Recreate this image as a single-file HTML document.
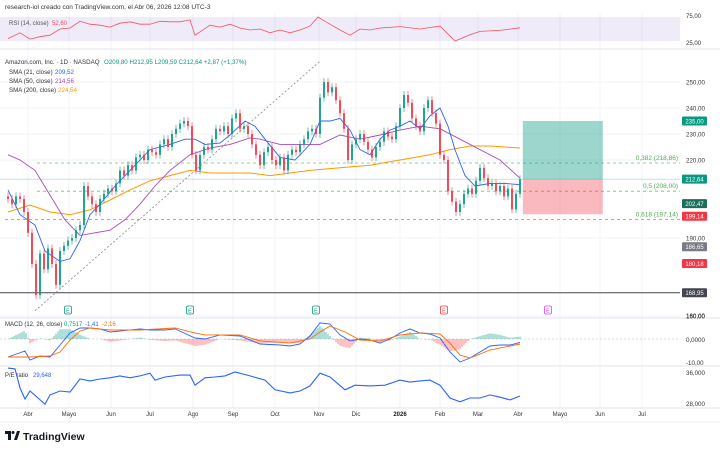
<!DOCTYPE html>
<html><head><meta charset="utf-8">
<style>
html,body{margin:0;padding:0;background:#fff;}
body{width:720px;height:450px;overflow:hidden;font-family:"Liberation Sans",sans-serif;}
svg text{font-family:"Liberation Sans",sans-serif;}
</style></head>
<body>
<svg id="c" width="720" height="450" xmlns="http://www.w3.org/2000/svg"></svg>
<script>
// ===== data =====
const closes=[205,203,206,205,200,192,180,168,184,178,186,180,172,185,187,189,190,193,195,210,206,203,200,205,207,209,208,211,216,214,218,216,221,222,220,224,223,222,226,228,225,230,232,234,235,233,222,216,222,225,224,228,232,231,233,230,236,238,232,233,230,226,222,218,223,225,220,218,221,216,222,224,223,226,228,231,232,230,244,250,246,248,243,238,232,220,226,228,230,227,224,221,225,227,231,229,228,233,240,245,242,236,233,231,240,243,238,234,222,220,208,204,200,203,207,209,207,212,217,213,210,211,208,210,206,209,201,207,212.64];
const sma21Idx=[0,3,6.75,9.25,13,15.5,18,20.5,23,26.75,30.5,35.5,40.5,44.25,46.75,49.25,53,55.5,59.25,61.75,64.25,68,71.75,75.5,78,80.5,83,85.5,88,90.5,93,95.5,98,100.5,103,105.5,108,110,111.75,114.25,116.75,120.5,124.25,128];
const sma21Val=[208.5,199,195,185,181,182,189,199,203,210,216,224,226,228,228,226,226.5,229.6,235,233,228,221,220,226,235,235,236,231.5,224,222,228,231.5,233,235,232,237,240,233,224,214,210,211,211,210.5];
const sma50Idx=[0,3,6.75,10.5,14.25,18,21.75,25.5,29.25,33,36.75,40.5,45.5,50.5,55.5,60.5,63,68,73,78,83,88,93,98,103,108,113,118,123,128];
const sma50Val=[222,220,216,206.5,197,191,192,193,197,203,210,216,222,224.6,226,228.5,228,226,226,226,229.6,228,229.6,231.5,233,232,228,224,220,213];
const sma200Idx=[0,5.5,10.5,15.5,20.5,25.5,30.5,35.5,40.5,45.5,50.5,55.5,60.5,65.5,70.5,75.5,83,90.5,98,105.5,110.5,115.5,120.5,128];
const sma200Val=[200,202.7,200,199,200.8,204.6,208.5,212,214,216,215,215,215,214,215,216,217,218,220,222,224,225.4,225.4,224.6];
const rsiIdx=[0,3,5.5,8,10.5,13,15.5,18,20.5,23,25.5,28,30.5,33,35.5,38,40.5,43,45.5,46.75,48,50.5,53,55.5,58,60.5,63,65.5,68,70.5,73,75.5,77.5,79.25,80.5,83,85.5,88,90.5,93,98,103,108,111.75,115.5,118,123,128];
const rsiVal=[30,42,29,34,37,50,52,66,60,58,54,62,65,60,60,66,65,65,69,37,44,58,54,60,52,48,50,42,48,42,48,56,75,66,60,48,37,50,48,52,55,50,56,25,38,45,47,52.6];
const macdIdx=[0,4.25,5.5,8,10.5,13,15.5,18,20.5,23,25.5,28,33,35.5,39.25,41.75,46.75,49.25,53,58,63,68,70.5,73,75.5,78,80.5,83,85.5,88,90.5,93,95.5,98,100.5,103,105.5,108,110.5,113,115.5,118,120.5,123,125.5,128];
const macdVal=[-7.5,-5,-8.75,-7.1,-7.5,-2.5,2.5,4.6,4.6,4.2,2.9,3.3,4.2,3.75,3.75,4.2,0.4,0,1.7,1.25,-2.1,-2.5,-2.9,-2.1,1.25,6.7,6.25,1.7,-0.8,0,-0.4,-1.7,0,2.5,4.2,2.5,2.1,0.4,-5.4,-9.6,-7.9,-5.4,-2.9,-2.5,-2.5,-1.4];
const signalIdx=[0,5.5,10.5,13,15.5,18,20.5,25.5,33,41.75,46.75,49.25,58,63,70.5,75.5,78,80.5,84.25,88,93,98,103,108,110.5,113,115.5,120.5,125.5,128];
const signalVal=[-7.5,-7.5,-7.1,-5.4,-0.4,3.3,4.6,3.75,3.75,4.6,2.5,1.7,1.7,-0.8,-1.7,0,2.9,5.4,2.9,-0.4,-0.8,1.7,2.5,2.1,-1.7,-6.7,-7.9,-4.6,-2.9,-2.1];
const peIdx=[0,1.75,3,4.25,5.5,7.5,9.25,10.5,13,15.5,18,20.5,23,25.5,28,30.5,33,35.5,36.75,39.25,43,45.5,46.75,49.25,51.75,54.25,56.75,60.5,64.25,66.75,70.5,73,75.5,78,80.5,84.25,86.75,90.5,94.25,98,100.5,103,105.5,108,110.5,113,115.5,118,120.5,123,125.5,128];
const peVal=[37,36.8,31.9,29,31.1,29.3,27.7,30.1,31.1,30.8,34.2,33.7,34.2,34.5,35,34.5,35,35.7,33.9,34.7,35.2,35.2,32.6,34.5,34.7,35,36,35,33.9,31.4,30.6,31.1,32.4,35.7,34.7,31.4,32.6,32.4,32.6,33.9,33.4,33.7,33.9,32.6,29.3,28.3,29.3,29.3,30.1,29.5,28.8,29.8];
const monthLabels=["Abr","Mayo","Jun","Jul","Ago","Sep","Oct","Nov","Dic","2026","Feb","Mar","Abr","Mayo","Jun","Jul"];
const monthIdx=[5,15.25,25.75,35.5,46.25,56.25,66.75,77.75,87,98,108,117.5,127.5,138,148,158.5];
const priceTicks=[250,240,230,220,190,160];
const fibLevels=[218.86,208,197.14];
const fibNames=["0,382 (218,86)","0,5 (208,00)","0,618 (197,14)"];
const earnIdx=[15,45.5,77,109,135];
const earnColor=["#089981","#089981","#089981","#f23645","#e040fb"];

// ===== scales =====
const S=document.getElementById('c');const NS='http://www.w3.org/2000/svg';
const X=i=>8+4*i;
const Y=p=>82+(250-p)*2.6;
const YR=v=>17+(75-v)*0.48;
const YM=v=>339-v*2.4;
const YP=v=>372+(36-v)*3.875;
function el(t,a,p){const e=document.createElementNS(NS,t);for(const k in a)e.setAttribute(k,a[k]);(p||S).appendChild(e);return e;}
function txt(x,y,s,fill,size,anchor){const e=el('text',{x:x,y:y,fill:fill,'font-size':size||6.5,'text-anchor':anchor||'start'});e.textContent=s;return e;}
function interp(idx,val,i){if(i<=idx[0])return val[0];for(let k=1;k<idx.length;k++){if(i<=idx[k]){const t=(i-idx[k-1])/(idx[k]-idx[k-1]);return val[k-1]+t*(val[k]-val[k-1]);}}return val[val.length-1];}
function line(idx,val,ys,color,name,w){const d=idx.map((i,k)=>(k?'L':'M')+X(i).toFixed(1)+','+ys(val[k]).toFixed(1)).join('');const p=el('path',{d:d,fill:'none',stroke:color,'stroke-width':w||1});

return p;}

// header
let h=txt(5,9,"research-iol creado con TradingView.com, el Abr 06, 2026 12:08 UTC-3","#333",6.5);



// grids
const grid=el('g',{});


monthIdx.forEach(i=>el('line',{x1:X(i),x2:X(i),y1:13,y2:408,stroke:'#f0f3fa','stroke-width':1},grid));
priceTicks.forEach(p=>el('line',{x1:0,x2:680,y1:Y(p),y2:Y(p),stroke:'#f0f3fa','stroke-width':1},grid));

// panel separators
[[49],[318],[366],[408]].forEach(a=>{const l=el('line',{x1:0,x2:720,y1:a[0],y2:a[0],stroke:'#e0e3eb','stroke-width':1});

});

// RSI panel
const rb=el('rect',{x:0,y:17,width:680,height:24,fill:'#7e57c2','fill-opacity':0.12});


line(rsiIdx,rsiVal,YR,'#f7525f','rsi-line',0.8);
let t=txt(9,25,"RSI (14, close)","#555",6);
t=txt(52,25,"52,60","#f7525f",6);
t=txt(686,18,"75,00","#333",6);
t=txt(686,45,"25,00","#333",6);

// fib lines
fibLevels.forEach((f,k)=>{const l=el('line',{x1:k==2?5:37,x2:680,y1:Y(f),y2:Y(f),stroke:'#4caf50','stroke-width':0.8,'stroke-dasharray':'3,3','stroke-opacity':0.8});


const tt=txt(678,Y(f)-3,fibNames[k],"#4caf50",6.5,'end');

});

// support line & current price line
let l2=el('line',{x1:0,x2:680,y1:Y(168.95),y2:Y(168.95),stroke:'#434651','stroke-width':1});


l2=el('line',{x1:0,x2:680,y1:Y(212.64),y2:Y(212.64),stroke:'#089981','stroke-width':0.6,'stroke-opacity':0.5});


// trendline
l2=el('line',{x1:X(6.75),y1:Y(162),x2:X(78),y2:Y(258),stroke:'#888','stroke-width':0.8,'stroke-dasharray':'2,2'});



// position box
let bx=el('rect',{x:X(128.7),y:Y(235),width:80,height:Y(212.64)-Y(235),fill:'#089981','fill-opacity':0.4});


bx=el('rect',{x:X(128.7),y:Y(212.64),width:80,height:Y(199.14)-Y(212.64),fill:'#f23645','fill-opacity':0.35});



// SMAs
line(sma200Idx,sma200Val,Y,'#ff9800','sma-200-line',1);
line(sma50Idx,sma50Val,Y,'#ab47bc','sma-50-line',0.9);
line(sma21Idx,sma21Val,Y,'#2962ff','sma-21-line',0.9);

// candles
const cg=el('g',{});


closes.forEach((c,i)=>{const o=i?closes[i-1]:c+1;const up=c>=o;const col=up?'#089981':'#f23645';
const hi=Math.max(o,c)+1.5,lo=Math.min(o,c)-1.5;
const g=el('g',{},cg);


el('line',{x1:X(i),x2:X(i),y1:Y(hi),y2:Y(lo),stroke:col,'stroke-width':0.6},g);
const top=Y(Math.max(o,c)),hh=Math.max(1,Math.abs(Y(o)-Y(c)));
el('rect',{x:X(i)-1,y:top,width:2,height:hh,fill:col,'fill-opacity':0.85},g);});

// main legend
t=txt(5,64,"Amazon.com, Inc. · 1D · NASDAQ","#333",6.2);
t=txt(104,64,"O209,80  H212,95  L209,59  C212,64  +2,87 (+1,37%)","#089981",6.2);
[["SMA (21, close)","209,52","#2962ff"],["SMA (50, close)","214,56","#ab47bc"],["SMA (200, close)","224,54","#ff9800"]].forEach((a,k)=>{
const tt=txt(9,74+k*9,a[0],"#333",6.2);
const tv=txt(k==2?58:55,74+k*9,a[1],a[2],6.2);});

// price axis
priceTicks.forEach(p=>{const tt=txt(686,Y(p)+2.5,p.toFixed(2).replace('.',','),"#333",6.2);

});
[[235,"235,00","#089981"],[212.64,"212,64","#089981"],[202.47,"202,47","#1b6e5a"],[199.14,"199,14","#f23645"],[186.65,"186,65","#787b86"],[180.18,"180,18","#f23645"],[168.95,"168,95","#434651"]].forEach(a=>{
const yy=Y(a[0])+(a[0]==202.47?-2:(a[0]==199.14?2:0));
const r=el('rect',{x:682,y:yy-4.5,width:25,height:9,fill:a[2],rx:1});


const tt=txt(694.5,yy+2.3,a[1],"#fff",6,'middle');

});

// earnings markers
earnIdx.forEach((i,k)=>{const g=el('g',{});


el('rect',{x:X(i)-3.5,y:306,width:7,height:8,rx:1.5,fill:'#fff',stroke:earnColor[k],'stroke-width':0.8},g);
const tt=txt(X(i),312.5,"E",earnColor[k],5.5,'middle');});
t=txt(686,318,"160,00","#333",6.2);

// MACD
const zl=el('line',{x1:0,x2:680,y1:YM(0),y2:YM(0),stroke:'#b2b5be','stroke-width':0.6,'stroke-dasharray':'2,2'});


const hg=el('g',{});


for(let i=0;i<=128;i+=0.5){const d=interp(macdIdx,macdVal,i)-interp(signalIdx,signalVal,i);
const y0=YM(0),y1=YM(d*1.4);
el('rect',{x:X(i)-0.6,y:Math.min(y0,y1),width:1.2,height:Math.abs(y1-y0),fill:d>=0?'#26a69a':'#ff5252','fill-opacity':0.6},hg);}
line(macdIdx,macdVal,YM,'#2962ff','macd-line',0.9);
line(signalIdx,signalVal,YM,'#ff6d00','macd-signal-line',0.9);
t=txt(5,326,"MACD (12, 26, close)","#333",6);
t=txt(64,326,"0,7517","#089981",6);
t=txt(85,326,"-1,41","#2962ff",6);
t=txt(102,326,"-2,16","#ff6d00",6);
t=txt(686,342,"0,0000","#333",6.2);
t=txt(686,365,"-10,00","#333",6.2);

// PE ratio
line(peIdx,peVal,YP,'#2962ff','pe-ratio-line',1.1);
t=txt(5,377,"P/E ratio","#333",6);
t=txt(33,377,"29,648","#2962ff",6);
t=txt(686,375,"36,000","#333",6.2);
t=txt(686,406,"28,000","#333",6.2);

// time axis
monthLabels.forEach((m,k)=>{const tt=txt(X(monthIdx[k]),416,m,m=="2026"?"#131722":"#333",6,'middle');
if(m=="2026")tt.setAttribute('font-weight','bold');

});
const ab=el('line',{x1:0,x2:720,y1:422,y2:422,stroke:'#eef0f4','stroke-width':1});



// logo
const lg=el('g',{});


el('path',{d:'M5 431h6v9h-3v-6h-3z',fill:'#131722'},lg);
el('circle',{cx:13,cy:432.5,r:1.5,fill:'#131722'},lg);
el('path',{d:'M14 440l3-9h3l-3 9z',fill:'#131722'},lg);
const lt=txt(23,440,"TradingView","#131722",10.5);lt.setAttribute('font-weight','bold');
</script>
</body></html>
